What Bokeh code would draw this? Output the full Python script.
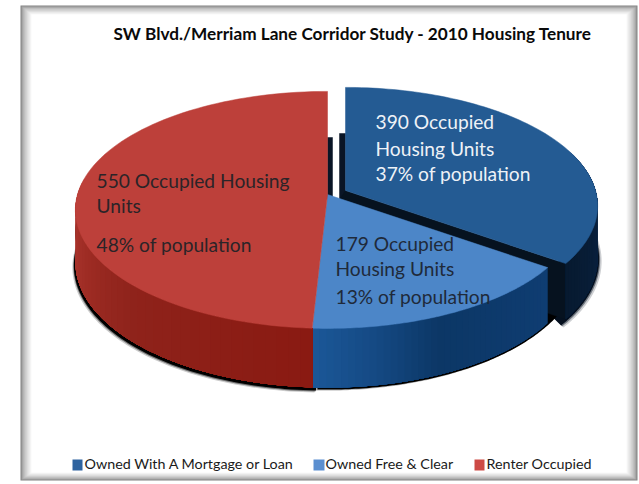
import math
from bokeh.plotting import figure
from bokeh.models import Range1d
from bokeh.core.properties import value
from bokeh.embed import file_html
from bokeh.resources import INLINE

# ---- data ----
categories = ["Owned With A Mortgage or Loan", "Owned Free & Clear", "Renter Occupied"]
units = [390, 179, 550]
title = "SW Blvd./Merriam Lane Corridor Study - 2010 Housing Tenure"
label_blue = ["390 Occupied", "Housing Units", "37% of population"]
label_light = ["179 Occupied", "Housing Units", "13% of population"]
label_red = ["550 Occupied Housing", "Units", "48% of population"]
legend_colors = ["#2e639f", "#5b8fd0", "#cd4a45"]

# ---- layout (pixel space of the page) ----
W, H = 639, 484
p = figure(width=W, height=H, output_backend="svg", toolbar_location=None,
           x_range=Range1d(0, W), y_range=Range1d(H, 0),
           x_axis_location=None, y_axis_location=None, min_border=0)
p.grid.visible = False
p.outline_line_color = None
p.background_fill_color = "white"
p.border_fill_color = "white"

# soft frame
OUT = (20, 5, 637, 480)
STEP = 12
for i in range(STEP):
    t = i / (STEP - 1)
    g = int(130 + 125 * min(1, t ** 0.6))
    c = f"#{g:02x}{g:02x}{g:02x}"
    p.quad(left=OUT[0] + 11 * t, right=OUT[2] - 11 * t, top=OUT[1] + 9 * t, bottom=OUT[3] - 8 * t,
           fill_color=c, line_color=None)

# pie projection
R, RY, K, DEPTH = 250, 116.5, 0.13, 51.5
APEX = (327, 194)
APEX_B = (345, 190)
def pt(theta, apex, down=False):
    u, v = math.cos(math.radians(theta)), math.sin(math.radians(theta))
    d = 1 + K * v
    return (apex[0] + R * u / d, apex[1] - RY * v / d + (DEPTH / d if down else 0))

def arc(a0, a1, apex, down=False, n=90):
    return [pt(a0 + (a1 - a0) * i / n, apex, down) for i in range(n + 1)]

def poly(points, color, alpha=1.0, lw=0.5):
    p.patch([q[0] for q in points], [q[1] for q in points], fill_color=color, fill_alpha=alpha,
            line_color=color if lw else None, line_alpha=alpha, line_width=lw or 1)

def mix(c0, c1, t):
    a = [int(c0[i:i + 2], 16) for i in (1, 3, 5)]
    b = [int(c1[i:i + 2], 16) for i in (1, 3, 5)]
    return "#" + "".join(f"{round(x + (y - x) * t):02x}" for x, y in zip(a, b))

def ramp(stops, t):
    for (t0, c0), (t1, c1) in zip(stops, stops[1:]):
        if t <= t1:
            return mix(c0, c1, (t - t0) / (t1 - t0))
    return stops[-1][1]

total = sum(units)
a0 = 90.0
a1 = a0 - 360 * units[0] / total
a2 = a1 - 360 * units[1] / total
a3 = a2 - 360 * units[2] / total

def wall(a_from, a_to, apex, stops, n=40):
    # painted back to front, each band running on to the end so no seams show
    for i in range(n):
        s = a_from + (a_to - a_from) * i / n
        poly([pt(s, apex)] + arc(s, a_to, apex, False, 30) + arc(a_to, s, apex, True, 30),
             ramp(stops, i / (n - 1)), 1.0, 0)

# drop shadow of the solid's lower rim
for (dx, dy, al) in [(-3, 5, 0.2), (-2, 4, 0.45), (-1.5, 3, 1.0)]:
    sh = [(q[0] + dx, q[1] + dy) for q in arc(-92, -205, APEX, True)]
    sh += [(q[0], q[1] - 30) for q in arc(-205, -92, APEX, True)]
    poly(sh, "#000000", al, 0)
for (dx, dy, al) in [(4, 3, 0.2), (2.5, 2, 0.45), (1.5, 1, 1.0)]:
    sh = [(q[0] + dx, q[1] + dy) for q in arc(10, -38, APEX_B, True)]
    sh += [(q[0] - 30, q[1] - 30) for q in arc(-38, 10, APEX_B, True)]
    poly(sh, "#05101f", al, 0)
for (dx, dy, al) in [(-2, 3, 0.3), (0, 2, 1.0)]:
    sh = [(q[0] + dx, q[1] + dy) for q in arc(-30, -92, APEX, True)]
    sh += [(q[0], q[1] - 30) for q in arc(-92, -30, APEX, True)]
    poly(sh, "#000000", al, 0)

# blue slice: inner cut walls, outer wall, top
poly([(APEX_B[0] - 6, 133), (APEX_B[0], 133), (APEX_B[0], 205), (APEX_B[0] - 6, 205)], "#0a1526")
poly([(APEX[0], 137), (APEX[0] + 5, 137), (APEX[0] + 5, 200), (APEX[0], 200)], "#0a1526")
end = pt(a1, APEX_B)
poly([(APEX_B[0] - 6, 199), APEX_B, end, pt(a1, APEX_B, True), (APEX_B[0] - 6, 240)], "#06121f")
wall(20, a1, APEX_B, [(0, "#0e2f58"), (0.4, "#0a2342"), (1, "#071a30")])
poly([APEX_B] + arc(a0, a1, APEX_B), "#245b93")

# light slice
wall(a1, a2, APEX, [(0, "#0f3d72"), (0.55, "#0c3766"), (0.8, "#154a85"), (1, "#1b5797")])
poly([APEX] + arc(a1, a2, APEX), "#4c86c8")

# red slice
wall(a2 - 95, a2, APEX, [(0, "#b63b33"), (0.55, "#8f231b"), (1, "#8a1a12")])
poly([APEX] + arc(a2, a3, APEX), "#bd403a")

# texts
def lines(xs, ys, texts, color, size, style="normal"):
    p.text(x=xs, y=ys, text=texts, text_color=color, text_font=value("Lato"),
           text_font_size=size, text_font_style=style, text_baseline="alphabetic", text_align="left")

lines([113], [33], [title], "#0a0a0a", "17.2px", "bold")
lines([375] * 3, [121, 148, 173], label_blue, "#eef2f7", "19.2px")
lines([335] * 3, [243, 268, 296], label_light, "#1f2a3a", "19.2px")
lines([96] * 3, [180, 205, 244], label_red, "#2b2428", "19.2px")

swatch_x = [72, 313, 474]
swatch_w = [10, 11, 10]
legend_x = [84, 325, 486]
p.quad(left=swatch_x, right=[a + b for a, b in zip(swatch_x, swatch_w)], top=[459] * 3, bottom=[470] * 3,
       fill_color=legend_colors, line_color=None)
lines(legend_x, [463] * 3, categories, "#1a1a1a", "14.3px")

open("out.html", "w").write(file_html(p, INLINE))
